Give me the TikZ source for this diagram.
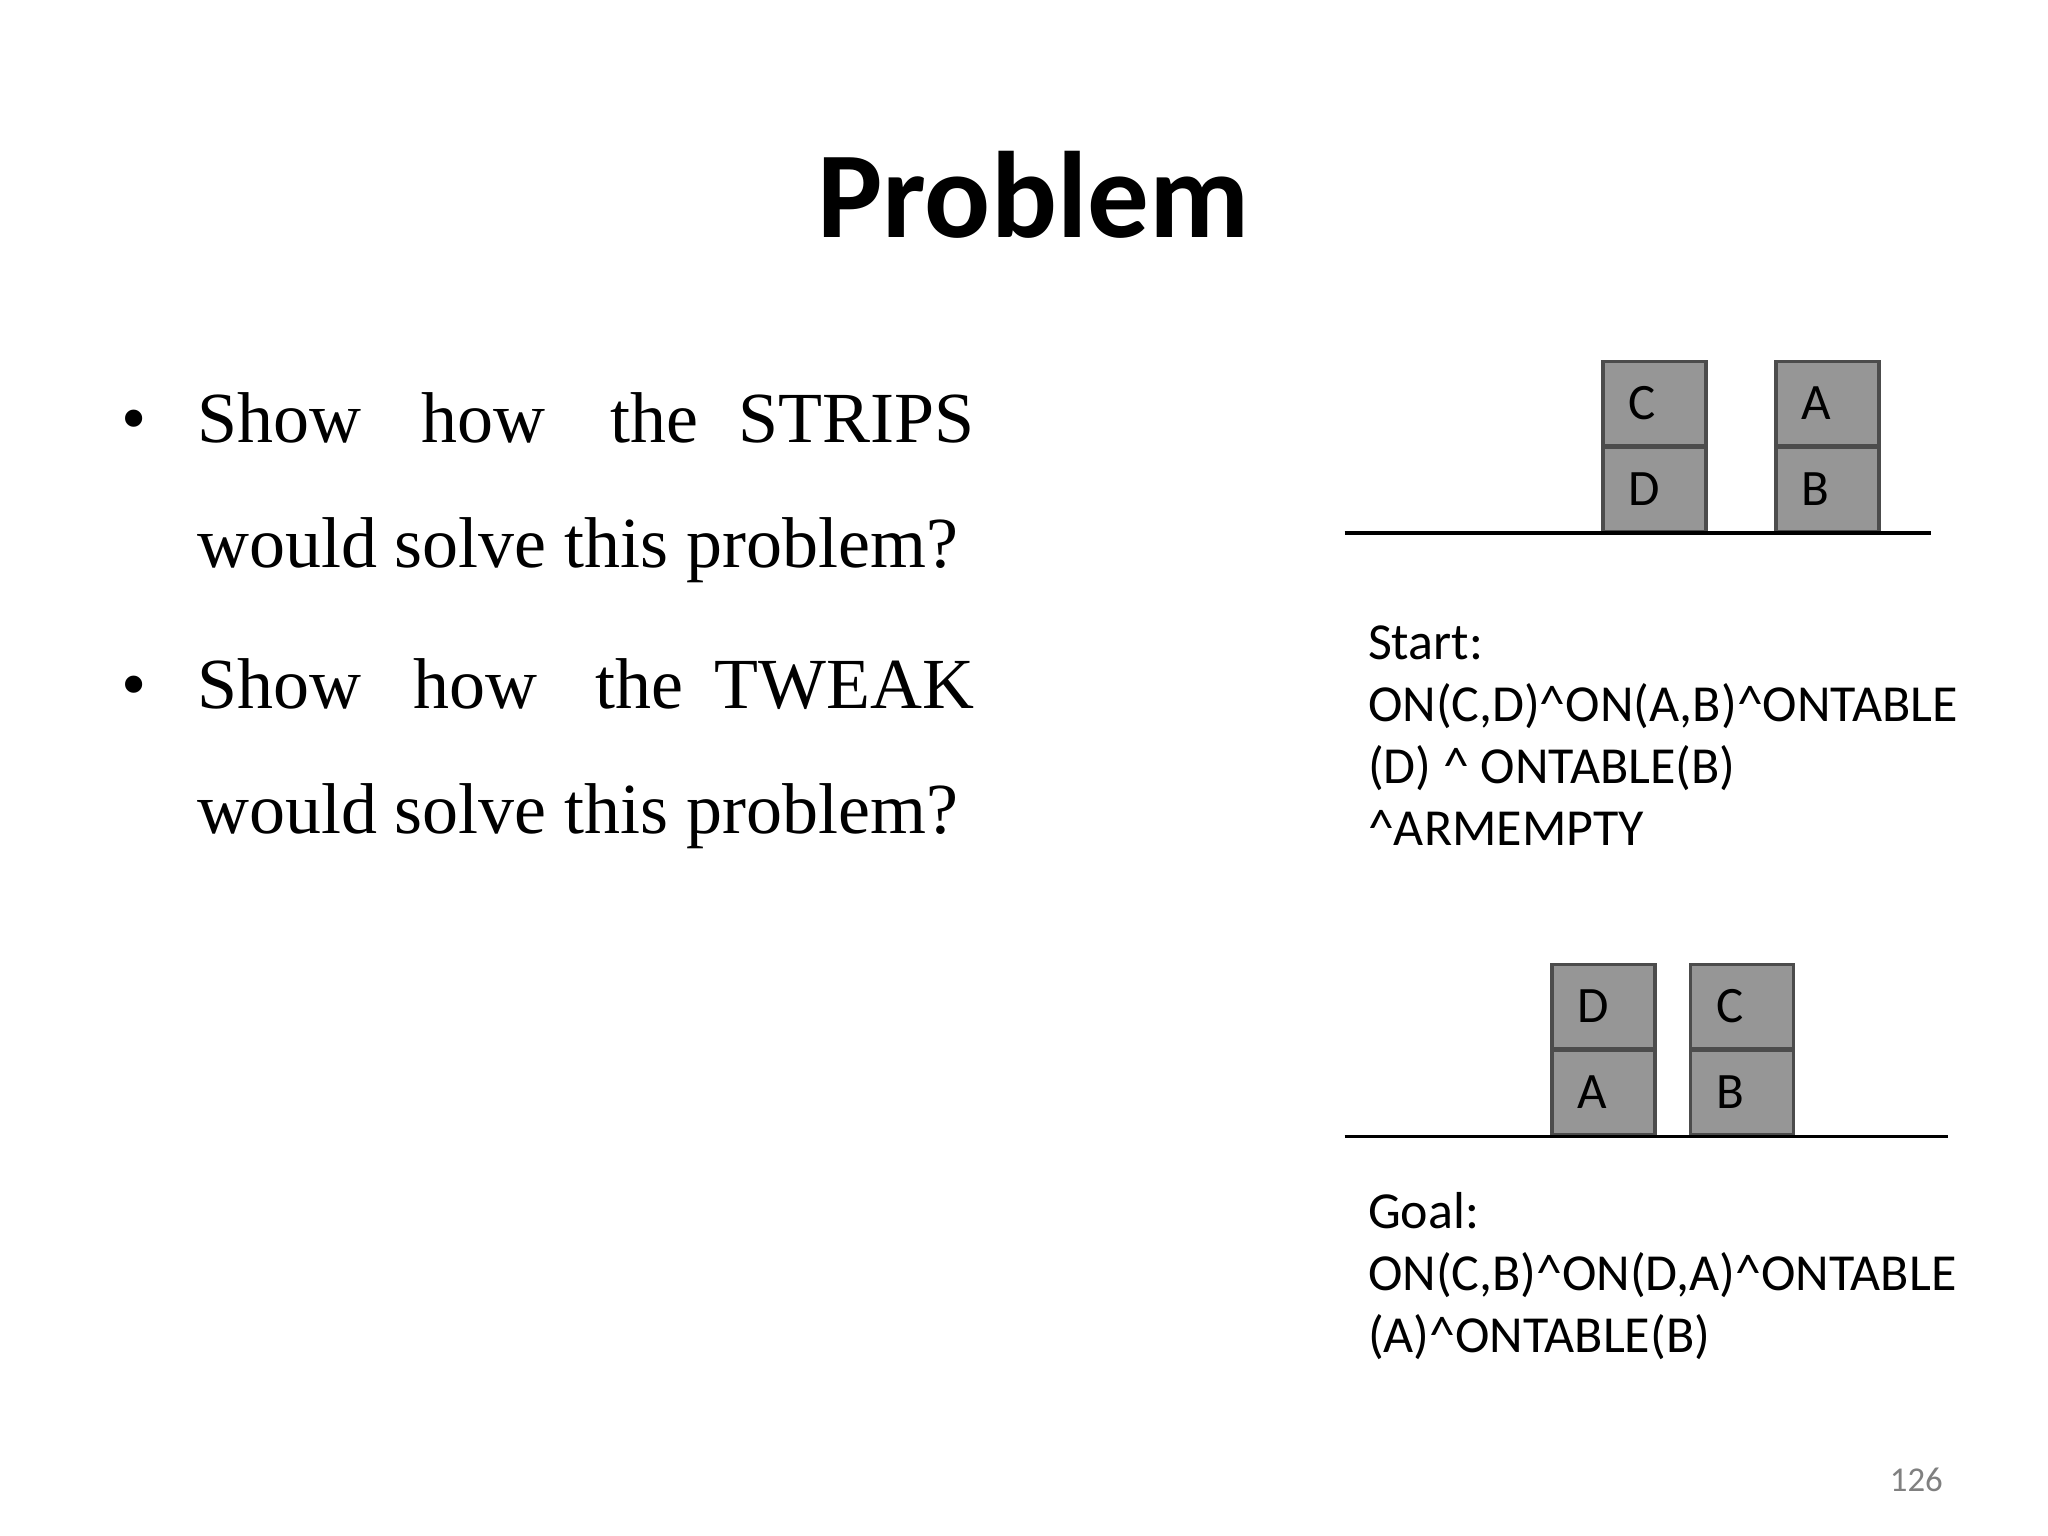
\documentclass[tikz,border=0pt]{standalone}
\usepackage{fontspec}
\setmainfont{Liberation Serif}
\newfontfamily\calfont{Carlito}
\begin{document}
\begin{tikzpicture}[x=0.01cm,y=-0.01cm,
  blk/.style={draw=black!70,fill=black!41,line width=0.8pt,minimum width=0.78cm,minimum height=0.64cm,inner sep=0pt},
  blab/.style={font=\calfont\fontsize{11}{13}\selectfont,anchor=base west},
  bw/.style={font=\fontsize{15.5}{18}\selectfont,anchor=base west},
  rt/.style={font=\calfont\fontsize{11.2}{13}\selectfont,anchor=base west,inner sep=0pt}]
\useasboundingbox (0,0) rectangle (1552,1164);
\node[font=\calfont\bfseries\fontsize{26.5}{30}\selectfont] (title) at (783,148) {Problem};
% bullets
\node[bw] (b1) at (80,335) {•};
\node[bw] (w1) at (137,335) {Show};
\node[bw] (w2) at (307,335) {how};
\node[bw] (w3) at (450,335) {the};
\node[bw,anchor=base east] (w4) at (751,335) {STRIPS};
\node[bw] (w5) at (137,430) {would solve this problem?};
\node[bw] (b2) at (80,537) {•};
\node[bw] (v1) at (137,537) {Show};
\node[bw] (v2) at (301,537) {how};
\node[bw] (v3) at (439,537) {the};
\node[bw,anchor=base east] (v4) at (751,537) {TWEAK};
\node[bw] (v5) at (137,632) {would solve this problem?};
% start blocks
\node[blk] (sC) at (1254,306) {}; \node[blab] at (1222,318) {C};
\node[blk] (sD) at (1254,371) {}; \node[blab] at (1222,383) {D};
\node[blk] (sA) at (1385,306) {}; \node[blab] at (1353,318) {A};
\node[blk] (sB) at (1385,371) {}; \node[blab] at (1353,383) {B};
\coordinate (t1a) at (1019,404); \coordinate (t1b) at (1463,404);
\draw[line width=0.7pt] (t1a) -- (t1b);
\node[rt] (s1) at (1036,500) {Start:};
\node[rt] (s2) at (1036,547) {ON(C,D)\^{}ON(A,B)\^{}ONTABLE};
\node[rt] (s3) at (1036,594) {(D) \^{} ONTABLE(B)};
\node[rt] (s4) at (1036,641) {\^{}ARMEMPTY};
% goal blocks
\node[blk] (gD) at (1215,763) {}; \node[blab] at (1183,775) {D};
\node[blk] (gA) at (1215,828) {}; \node[blab] at (1183,840) {A};
\node[blk] (gC) at (1320,763) {}; \node[blab] at (1288,775) {C};
\node[blk] (gB) at (1320,828) {}; \node[blab] at (1288,840) {B};
\coordinate (t2a) at (1019,861); \coordinate (t2b) at (1476,861);
\draw[line width=0.7pt] (t2a) -- (t2b);
\node[rt] (g1) at (1036,931) {Goal:};
\node[rt] (g2) at (1036,978) {ON(C,B)\^{}ON(D,A)\^{}ONTABLE};
\node[rt] (g3) at (1036,1025) {(A)\^{}ONTABLE(B)};
\node[font=\calfont\fontsize{7.5}{9}\selectfont,text=black!50,anchor=base east,inner sep=0pt] (pg) at (1473,1130) {126};
\end{tikzpicture}
\end{document}
